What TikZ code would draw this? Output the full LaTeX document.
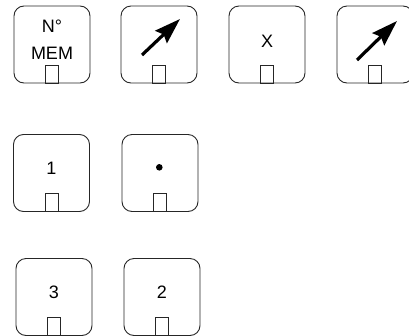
\documentclass[tikz,border=0pt]{standalone}
\usepackage{fontspec}
\setmainfont{Liberation Sans}
\usetikzlibrary{arrows.meta}
\begin{document}
\begin{tikzpicture}[x=1pt,y=-1pt,
  keybox/.style={draw=black!85, line width=0.9pt, rounded corners=10pt,
    minimum width=76pt, minimum height=77pt, inner sep=0pt, outer sep=0pt},
  slot/.style={draw=black!85, line width=0.9pt, minimum width=13pt,
    minimum height=18pt, inner sep=0pt, outer sep=0pt, anchor=south},
  keytext/.style={font=\fontsize{18}{26.5}\selectfont, align=center, inner sep=0pt},
  bigarrow/.style={line width=3.2pt, -{Stealth[length=26pt,width=17pt,inset=3.5pt]}}]
\useasboundingbox (0,0) rectangle (409,335);
% row 1
\node[keybox] (k1) at (52,44.5) {};
\node[keybox] (k2) at (159,44.5) {};
\node[keybox] (k3) at (267,44.5) {};
\node[keybox] (k4) at (375,44.5) {};
% row 2
\node[keybox] (k5) at (51.5,173) {};
\node[keybox] (k6) at (160,173) {};
% row 3
\node[keybox] (k7) at (54,297) {};
\node[keybox] (k8) at (162,297) {};
% slots
\foreach \k in {k1,k2,k3,k4,k5,k6,k7,k8}
  \node[slot] (s\k) at (\k.south) {};
% texts
\node[keytext] (t1) at ([yshift=5pt]k1.center) {N°\\MEM};
\node[keytext] (t3) at ([yshift=3.5pt]k3.center) {X};
\node[keytext] (t5) at ([yshift=5pt]k5.center) {1};
\node[keytext] (t7) at ([yshift=5pt]k7.center) {3};
\node[keytext] (t8) at ([yshift=5pt]k8.center) {2};
\fill[black] ([shift={(-0.7,-5.7)}]k6.center) circle (3.3pt);
% arrows
\coordinate (a2s) at ([shift={(-17,10.5)}]k2.center);
\coordinate (a2e) at ([shift={(21,-25.5)}]k2.center);
\draw[bigarrow] (a2s) -- (a2e);
\coordinate (a4s) at ([shift={(-18,15.5)}]k4.center);
\coordinate (a4e) at ([shift={(22,-23.5)}]k4.center);
\draw[bigarrow] (a4s) -- (a4e);
\end{tikzpicture}
\end{document}
